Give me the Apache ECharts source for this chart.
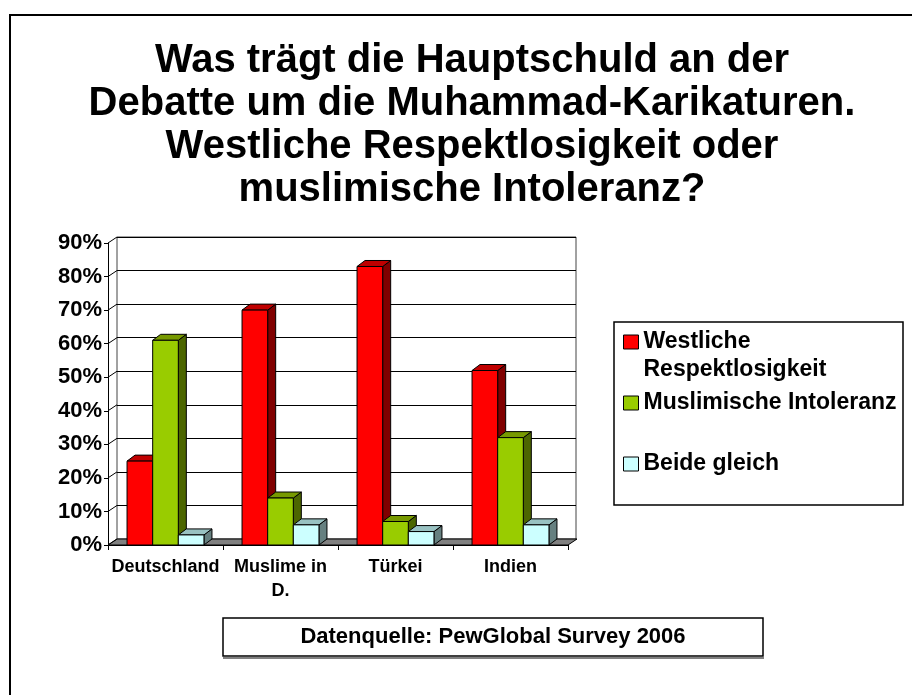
<!DOCTYPE html>
<html>
<head>
<meta charset="utf-8">
<script src="https://cdn.jsdelivr.net/npm/echarts@6/dist/echarts.min.js"></script>
<style>
  html, body { margin: 0; padding: 0; background: #fff; }
  #chart { width: 912px; height: 695px; }
</style>
</head>
<body>
<div id="chart"></div>
<script>
// Daten
const categories = ['Deutschland', 'Muslime in\nD.', 'Türkei', 'Indien'];
const westlicheRespektlosigkeit = [25, 70, 83, 52];
const muslimischeIntoleranz = [61, 14, 7, 32];
const beideGleich = [3, 6, 4, 6];
const yTicks = [0, 10, 20, 30, 40, 50, 60, 70, 80, 90];
const seriesNames = ['Westliche Respektlosigkeit', 'Muslimische Intoleranz', 'Beide gleich'];

const FONT = "'Liberation Sans', Arial, sans-serif";
// Tiefe der 3D-Saeulen / Waende
const DX = 8, DY = -6;
const WALL_DX = 9, WALL_DY = -6;
const BAR_RATIO = 0.223;

const chart = echarts.init(document.getElementById('chart'));

// 3D-Saeule: Vorderseite, Deckel, rechte Seite
const makeBar = (index, colors) => (params, api) => {
  const cat = api.value(0);
  const base = api.coord([cat, 0]);
  const top = api.coord([cat, api.value(1)]);
  const w = api.size([1, 0])[0] * BAR_RATIO;
  const x = base[0] - 1.5 * w + index * w;
  const yb = base[1], yt = top[1];
  const line = { stroke: '#000', lineWidth: 1 };
  return {
    type: 'group',
    children: [
      { type: 'polygon', shape: { points: [[x + w, yt], [x + w + DX, yt + DY], [x + w + DX, yb + DY], [x + w, yb]] },
        style: Object.assign({ fill: colors[2] }, line) },
      { type: 'polygon', shape: { points: [[x, yt], [x + w, yt], [x + w + DX, yt + DY], [x + DX, yt + DY]] },
        style: Object.assign({ fill: colors[1] }, line) },
      { type: 'rect', shape: { x: x, y: yt, width: w, height: yb - yt },
        style: Object.assign({ fill: colors[0] }, line) }
    ]
  };
};

const barSeries = (name, values, index, colors) => ({
  name: name,
  type: 'custom',
  xAxisIndex: 1,
  yAxisIndex: 1,
  z: 5,
  itemStyle: { color: colors[0] },
  encode: { x: 0, y: 1 },
  data: values.map((v, i) => [i, v]),
  renderItem: makeBar(index, colors)
});

const legendText = { fontFamily: FONT, fontWeight: 'bold', fontSize: 23, color: '#000', lineHeight: 28 };
const legendBase = {
  orient: 'vertical',
  left: 623,
  padding: 0,
  icon: 'rect',
  itemWidth: 15,
  itemHeight: 14,
  itemStyle: { borderColor: '#000', borderWidth: 1 },
  selectedMode: false,
  textStyle: legendText
};

const option = {
  animation: false,
  title: {
    text: 'Was trägt die Hauptschuld an der\nDebatte um die Muhammad-Karikaturen.\nWestliche Respektlosigkeit oder\nmuslimische Intoleranz?',
    left: 472,
    top: 39,
    padding: 0,
    textAlign: 'center',
    textStyle: { fontFamily: FONT, fontWeight: 'bold', fontSize: 40, lineHeight: 43, color: '#000' }
  },
  legend: [
    // erste Zeile soll auf Hoehe des Symbols stehen -> leere Zeile davor
    Object.assign({}, legendBase, {
      top: 300,
      data: [seriesNames[0]],
      formatter: () => ' \nWestliche\nRespektlosigkeit'
    }),
    Object.assign({}, legendBase, { top: 389, data: [seriesNames[1]] }),
    Object.assign({}, legendBase, { top: 450, data: [seriesNames[2]] })
  ],
  grid: [
    // Rueckwand
    { left: 117, right: 336, top: 237, bottom: 156, show: true, borderColor: '#444', borderWidth: 1, backgroundColor: 'transparent' },
    // Vorderebene
    { left: 108, right: 344, top: 243, bottom: 150 }
  ],
  xAxis: [
    { type: 'category', gridIndex: 0, data: categories, show: false },
    {
      type: 'category', gridIndex: 1, data: categories,
      axisLine: { lineStyle: { color: '#000', width: 1 } },
      axisTick: { show: true, length: 5, lineStyle: { color: '#000' } },
      axisLabel: { fontFamily: FONT, fontWeight: 'bold', fontSize: 18, color: '#000', lineHeight: 24, margin: 10, interval: 0 }
    }
  ],
  yAxis: [
    {
      type: 'value', gridIndex: 0, min: 0, max: 90, interval: 10,
      axisLine: { show: false }, axisTick: { show: false }, axisLabel: { show: false },
      splitLine: { lineStyle: { color: '#000', width: 1 } }
    },
    {
      type: 'value', gridIndex: 1, min: 0, max: 90, interval: 10,
      axisLine: { show: true, lineStyle: { color: '#000', width: 1 } },
      axisTick: { show: true, length: 4, lineStyle: { color: '#000' } },
      splitLine: { show: false },
      axisLabel: { formatter: '{value}%', fontFamily: FONT, fontWeight: 'bold', fontSize: 22, color: '#000', margin: 6 }
    }
  ],
  series: [
    {
      // Boden und linke Wandlinien
      type: 'custom',
      xAxisIndex: 1,
      yAxisIndex: 1,
      z: 1,
      silent: true,
      data: yTicks.map(v => [0, v]),
      encode: { x: 0, y: 1 },
      renderItem: (params, api) => {
        const cs = params.coordSys;
        const y = api.coord([0, api.value(1)])[1];
        const children = [
          { type: 'line', shape: { x1: cs.x, y1: y, x2: cs.x + WALL_DX, y2: y + WALL_DY }, style: { stroke: '#000', lineWidth: 1 } }
        ];
        if (params.dataIndex === 0) {
          const L = cs.x, R = cs.x + cs.width, B = cs.y + cs.height;
          children.unshift({
            type: 'polygon',
            shape: { points: [[L, B], [R, B], [R + WALL_DX, B + WALL_DY], [L + WALL_DX, B + WALL_DY]] },
            style: { fill: '#808080', stroke: '#000', lineWidth: 1 }
          });
        }
        return { type: 'group', children: children };
      }
    },
    barSeries(seriesNames[0], westlicheRespektlosigkeit, 0, ['#FF0000', '#C00000', '#800000']),
    barSeries(seriesNames[1], muslimischeIntoleranz, 1, ['#99CC00', '#779900', '#4C6600']),
    barSeries(seriesNames[2], beideGleich, 2, ['#CCFFFF', '#99C2C2', '#668080'])
  ],
  graphic: [
    // Rahmen der Folie
    { type: 'rect', shape: { x: 10, y: 15, width: 1000, height: 1000 }, style: { fill: 'none', stroke: '#000', lineWidth: 2 }, z: 0 },
    // Legendenrahmen
    { type: 'rect', shape: { x: 614, y: 322, width: 289, height: 183 }, style: { fill: 'none', stroke: '#000', lineWidth: 1.5 } },
    // Datenquelle
    { type: 'rect', shape: { x: 223, y: 657, width: 541, height: 2 }, style: { fill: '#808080' } },
    { type: 'rect', shape: { x: 223, y: 618, width: 540, height: 38 }, style: { fill: '#fff', stroke: '#000', lineWidth: 1.5 } },
    {
      type: 'text', x: 493, y: 637,
      style: { text: 'Datenquelle: PewGlobal Survey 2006', fontFamily: FONT, fontWeight: 'bold', fontSize: 22, fill: '#000', align: 'center', verticalAlign: 'middle' }
    }
  ]
};

chart.setOption(option);
window.addEventListener('resize', () => chart && chart.resize());
</script>
</body>
</html>
